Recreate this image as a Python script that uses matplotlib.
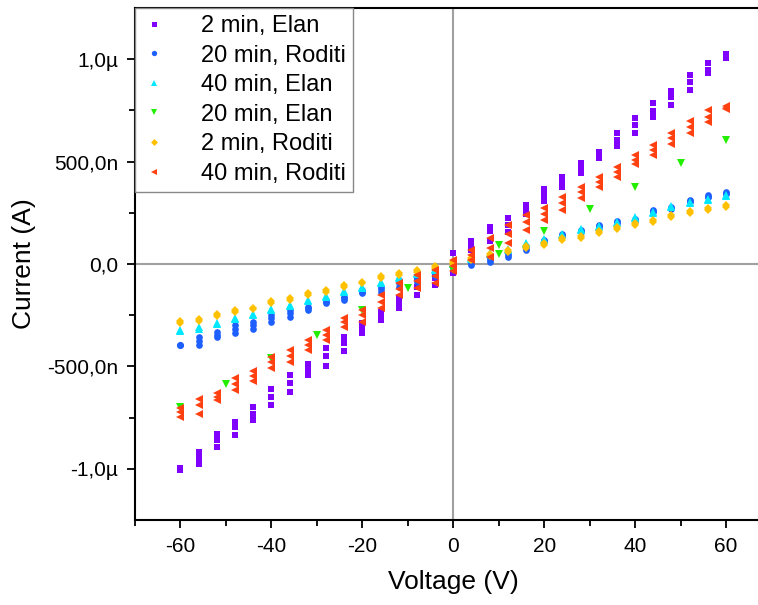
import matplotlib
matplotlib.use("Agg")
import matplotlib.pyplot as plt
import numpy as np
from matplotlib.ticker import FixedLocator, FixedFormatter

plt.rcParams['font.family'] = ['Liberation Sans', 'DejaVu Sans']
plt.rcParams['axes.unicode_minus'] = False

# Voltage sweep points (V)
voltage = list(range(-60, 61, 4))

# Currents in microampere, several repeated sweeps per sample
elan_2min = [
    [-1.007, -0.918, -0.828, -0.771, -0.698, -0.608, -0.543, -0.486, -0.412, -0.355, -0.289, -0.233, -0.166, -0.062, -0.038,
     0.054, 0.114, 0.182, 0.226, 0.288, 0.367, 0.427, 0.492, 0.549, 0.639, 0.712, 0.786, 0.843, 0.924, 0.981, 1.024],
    [-1.000, -0.945, -0.861, -0.795, -0.730, -0.649, -0.583, -0.515, -0.450, -0.388, -0.310, -0.250, -0.190, -0.110, -0.070,
     0.000, 0.090, 0.163, 0.190, 0.265, 0.335, 0.400, 0.465, 0.533, 0.606, 0.680, 0.745, 0.815, 0.887, 0.949, 1.014],
    [-0.995, -0.975, -0.893, -0.833, -0.760, -0.689, -0.624, -0.543, -0.499, -0.425, -0.337, -0.274, -0.215, -0.152, -0.103,
     -0.044, 0.068, 0.112, 0.158, 0.245, 0.308, 0.378, 0.443, 0.517, 0.574, 0.639, 0.720, 0.774, 0.848, 0.933, 1.004],
]
roditi_20min = [
    [-0.396, -0.355, -0.331, -0.298, -0.282, -0.249, -0.225, -0.209, -0.175, -0.160, -0.128, -0.111, -0.078, -0.060, -0.030,
     0.000, -0.005, 0.011, 0.036, 0.070, 0.105, 0.135, 0.155, 0.182, 0.200, 0.210, 0.255, 0.268, 0.303, 0.325, 0.340],
    [-0.396, -0.375, -0.345, -0.318, -0.298, -0.265, -0.240, -0.217, -0.184, -0.168, -0.135, -0.123, -0.095, -0.075, -0.045,
     -0.010, 0.005, 0.020, 0.045, 0.080, 0.110, 0.140, 0.160, 0.186, 0.207, 0.215, 0.261, 0.274, 0.308, 0.329, 0.346],
    [-0.396, -0.396, -0.358, -0.339, -0.315, -0.282, -0.258, -0.225, -0.190, -0.176, -0.140, -0.135, -0.111, -0.090, -0.060,
     -0.020, 0.015, 0.030, 0.055, 0.090, 0.115, 0.145, 0.165, 0.190, 0.212, 0.220, 0.266, 0.280, 0.313, 0.335, 0.352],
]
elan_40min = [
    [-0.328, -0.315, -0.293, -0.270, -0.249, -0.225, -0.205, -0.179, -0.160, -0.135, -0.119, -0.091, -0.070, -0.050, -0.030,
     0.000, 0.025, 0.050, 0.070, 0.098, 0.117, 0.142, 0.166, 0.180, 0.200, 0.226, 0.249, 0.280, 0.297, 0.313, 0.333],
    [-0.320, -0.310, -0.288, -0.265, -0.244, -0.220, -0.200, -0.174, -0.155, -0.130, -0.114, -0.086, -0.065, -0.045, -0.025,
     0.005, 0.030, 0.055, 0.075, 0.103, 0.122, 0.147, 0.171, 0.185, 0.205, 0.231, 0.254, 0.285, 0.302, 0.318, 0.338],
]
roditi_2min = [
    [-0.290, -0.277, -0.254, -0.233, -0.222, -0.192, -0.176, -0.152, -0.135, -0.111, -0.095, -0.070, -0.054, -0.038, -0.021,
     0.000, 0.020, 0.039, 0.060, 0.077, 0.093, 0.117, 0.126, 0.150, 0.170, 0.191, 0.207, 0.231, 0.248, 0.264, 0.280],
    [-0.280, -0.268, -0.245, -0.224, -0.213, -0.183, -0.167, -0.143, -0.126, -0.102, -0.086, -0.061, -0.045, -0.029, -0.012,
     0.010, 0.030, 0.048, 0.069, 0.086, 0.102, 0.126, 0.135, 0.159, 0.179, 0.200, 0.216, 0.240, 0.257, 0.273, 0.289],
]
roditi_40min = [
    [-0.704, -0.657, -0.632, -0.558, -0.522, -0.453, -0.420, -0.372, -0.323, -0.266, -0.225, -0.152, -0.095, -0.054, -0.029,
     0.020, 0.068, 0.127, 0.190, 0.240, 0.274, 0.329, 0.378, 0.427, 0.476, 0.533, 0.582, 0.639, 0.696, 0.750, 0.770],
    [-0.725, -0.690, -0.648, -0.585, -0.545, -0.480, -0.450, -0.395, -0.345, -0.285, -0.250, -0.185, -0.120, -0.085, -0.060,
     -0.010, 0.045, 0.080, 0.145, 0.205, 0.245, 0.300, 0.350, 0.400, 0.450, 0.510, 0.557, 0.615, 0.668, 0.720, 0.761],
    [-0.747, -0.731, -0.665, -0.616, -0.571, -0.510, -0.478, -0.420, -0.372, -0.307, -0.282, -0.217, -0.152, -0.117, -0.095,
     -0.035, 0.020, 0.034, 0.103, 0.166, 0.215, 0.264, 0.320, 0.378, 0.427, 0.489, 0.533, 0.587, 0.639, 0.693, 0.755],
]
# 20 min Elan measured every 10 V
elan_20min_v = [-60, -50, -40, -30, -20, -10, 0, 10, 10, 20, 30, 40, 50, 60]
elan_20min_i = [-0.698, -0.588, -0.458, -0.347, -0.225, -0.116, -0.030, 0.095, 0.050, 0.161, 0.270, 0.378, 0.492, 0.606]

labels = ["2 min, Elan", "20 min, Roditi", "40 min, Elan", "20 min, Elan", "2 min, Roditi", "40 min, Roditi"]
y_ticks = [-1.0e-6, -5.0e-7, 0.0, 5.0e-7, 1.0e-6]
y_tick_labels = ["-1,0µ", "-500,0n", "0,0", "500,0n", "1,0µ"]
x_ticks = [-60, -40, -20, 0, 20, 40, 60]

fig = plt.figure(figsize=(7.58, 6.05), dpi=100)
ax = fig.add_axes([135/758, 85/605, 636.5/758, 512/605])

ax.axhline(0, color='#a0a0a0', lw=1.5, zorder=0)
ax.axvline(0, color='#a0a0a0', lw=1.5, zorder=0)

V = np.array(voltage)
styles = [
    ('s', '#7f00ff', 4.5),
    ('o', '#1e5fff', 4.8),
    ('^', '#00e8ff', 5.2),
    ('v', '#22ee00', 5.8),
    ('D', '#ffc000', 4.4),
    ('<', '#ff4010', 5.2),
]

def plot_sweeps(sweeps, idx):
    m, c, ms = styles[idx]
    for k, s in enumerate(sweeps):
        ax.plot(V, np.array(s) * 1e-6, ls='none', marker=m, color=c, ms=ms, mew=0,
                label=labels[idx] if k == 0 else None, zorder=2 + idx)

plot_sweeps(elan_2min, 0)
plot_sweeps(roditi_20min, 1)
plot_sweeps(elan_40min, 2)
m, c, ms = styles[3]
ax.plot(elan_20min_v, np.array(elan_20min_i) * 1e-6, ls='none', marker=m, color=c, ms=ms, mew=0,
        label=labels[3], zorder=5)
plot_sweeps(roditi_2min, 4)
plot_sweeps(roditi_40min, 5)

ax.set_xlim(-70, 70)
ax.set_ylim(-1.25e-6, 1.25e-6)
ax.xaxis.set_major_locator(FixedLocator(x_ticks))
ax.xaxis.set_minor_locator(FixedLocator([-70, -50, -30, -10, 10, 30, 50]))
ax.yaxis.set_major_locator(FixedLocator(y_ticks))
ax.yaxis.set_major_formatter(FixedFormatter(y_tick_labels))
ax.yaxis.set_minor_locator(FixedLocator([-7.5e-7, -2.5e-7, 2.5e-7, 7.5e-7]))
ax.tick_params(which='major', direction='out', width=1.3, length=6, labelsize=15, pad=6)
ax.tick_params(which='minor', direction='out', width=1.3, length=4)
for sp in ax.spines.values():
    sp.set_linewidth(1.5)

ax.set_xlabel("Voltage (V)", fontsize=19, labelpad=10)
ax.set_ylabel("Current (A)", fontsize=19, labelpad=8)

leg = ax.legend(loc='upper left', bbox_to_anchor=(0, 1), borderaxespad=0, fontsize=17,
                frameon=True, fancybox=False, edgecolor='#888888', framealpha=1,
                handlelength=1.0, handletextpad=1.5, labelspacing=0.32, borderpad=0.3,
                markerscale=0.8)
leg.get_frame().set_linewidth(1.0)

fig.savefig("out.png", dpi=100)
